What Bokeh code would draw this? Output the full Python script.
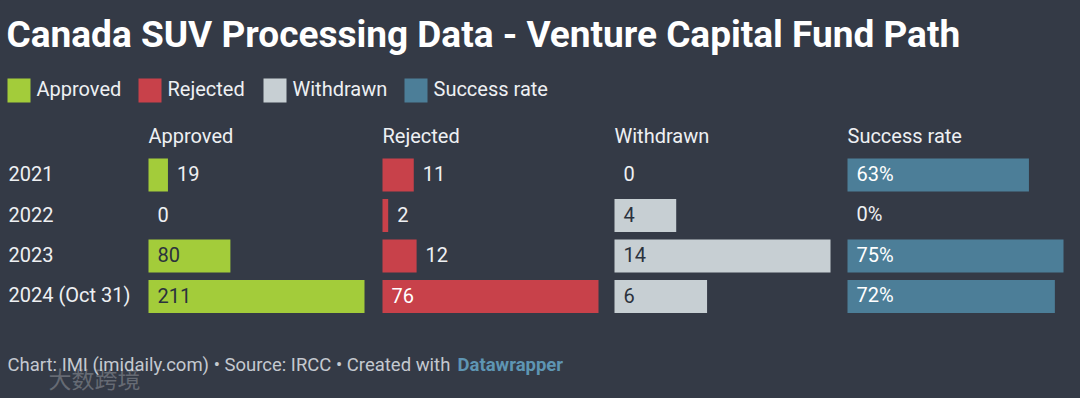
from bokeh.plotting import figure
from bokeh.models import Range1d, Label, BoxAnnotation
from bokeh.core.properties import value
from bokeh.embed import file_html
from bokeh.resources import INLINE

# ---------------- data ----------------
years = ["2021", "2022", "2023", "2024 (Oct 31)"]
approved = [19, 0, 80, 211]
rejected = [11, 2, 12, 76]
withdrawn = [0, 4, 14, 6]
success_rate = [63, 0, 75, 72]
column_names = ["Approved", "Rejected", "Withdrawn", "Success rate"]
column_suffix = ["", "", "", "%"]
title_text = "Canada SUV Processing Data - Venture Capital Fund Path"
footer_text = "Chart: IMI (imidaily.com) \u2022 Source: IRCC \u2022 Created with"
footer_link = "Datawrapper"
watermark_text = "大数跨境"

# ---------------- style / layout ----------------
BG = "#343a46"
COLORS = ["#a3cc3a", "#c8414a", "#c7cfd3", "#4c7e98"]
INSIDE_TEXT = ["#2b323d", "#ffffff", "#2b323d", "#ffffff"]
TEXT = "#eef0f3"
FONT = "Roboto"

OFF = 0
W, H = 1080 - 2 * OFF, 398 - 2 * OFF
COL_LEFT = [148, 382, 614, 847]
BAR_MAX = 216
ROW0, ROW_STEP, BAR_H = 174.5, 40.5, 33
LEGEND_X = [7, 138, 263, 404]
TY = -1.5  # small vertical nudge for text

series = [approved, rejected, withdrawn, success_rate]

p = figure(width=W, height=H,
           x_range=Range1d(OFF, OFF + W), y_range=Range1d(OFF + H, OFF),
           output_backend="svg", toolbar_location=None, min_border=0,
           x_axis_location=None, y_axis_location=None,
           outline_line_color=None, background_fill_color=BG,
           border_fill_color=BG)
p.xgrid.visible = False
p.ygrid.visible = False

p.extra_y_ranges["rows"] = Range1d((OFF + H - ROW0) / ROW_STEP, (OFF - ROW0) / ROW_STEP)
idx = list(range(len(years)))

# title
p.add_layout(Label(x=6, y=35 + TY, text=title_text, text_font=FONT, text_font_style="bold",
                   text_font_size="37px", text_color="#ffffff", text_baseline="middle"))

# legend
for i, name in enumerate(column_names):
    lx = LEGEND_X[i]
    p.add_layout(BoxAnnotation(left=lx, right=lx + 23, top=78, bottom=102,
                               fill_color=COLORS[i], fill_alpha=1.0, line_color=None))
    p.add_layout(Label(x=lx + 29, y=90 + TY, text=name, text_font=FONT, text_font_size="20px",
                       text_color=TEXT, text_baseline="middle"))

# row labels
p.text(x=[8] * len(years), y=idx, text=years, y_range_name="rows", y_offset=TY,
       text_font=value(FONT), text_font_size="20px", text_color=TEXT,
       text_baseline="middle", text_align="left")

# columns
for c, vals in enumerate(series):
    name = "col%d" % c
    left = COL_LEFT[c]
    k = BAR_MAX / max(vals)
    p.extra_x_ranges[name] = Range1d((OFF - left) / k, (OFF + W - left) / k)
    p.add_layout(Label(x=left, y=137 + TY, text=column_names[c], text_font=FONT,
                       text_font_size="20px", text_color=TEXT, text_baseline="middle"))
    p.hbar(y=idx, left=0, right=vals, height=BAR_H / ROW_STEP,
           x_range_name=name, y_range_name="rows",
           fill_color=COLORS[c], line_color=None)
    inside = [v * k >= 45 for v in vals]
    p.text(x=[0 if ins else v for v, ins in zip(vals, inside)], y=idx,
           text=["%d%s" % (v, column_suffix[c]) for v in vals],
           x_offset=9, y_offset=TY, x_range_name=name, y_range_name="rows",
           text_color=[INSIDE_TEXT[c] if ins else TEXT for ins in inside],
           text_font=value(FONT), text_font_size="20px",
           text_baseline="middle", text_align="left")

# footer
p.add_layout(Label(x=7, y=366 + TY, text=footer_text, text_font=FONT, text_font_size="18.5px",
                   text_color="#c4c9d0", text_baseline="middle"))
p.add_layout(Label(x=457, y=366 + TY, text=footer_link, text_font=FONT, text_font_size="18.5px",
                   text_font_style="bold", text_color="#5e95b3", text_baseline="middle"))
p.add_layout(Label(x=48, y=377, text=watermark_text, text_font="Noto Sans CJK SC",
                   text_font_size="23px", text_color="#ffffff", text_alpha=0.25,
                   text_baseline="middle"))

TEMPLATE = "{% block postamble %}<style>html, body { background: " + BG + "; }</style>{% endblock %}"
open("out.html", "w").write(file_html(p, INLINE, title="Canada SUV", template=TEMPLATE))
